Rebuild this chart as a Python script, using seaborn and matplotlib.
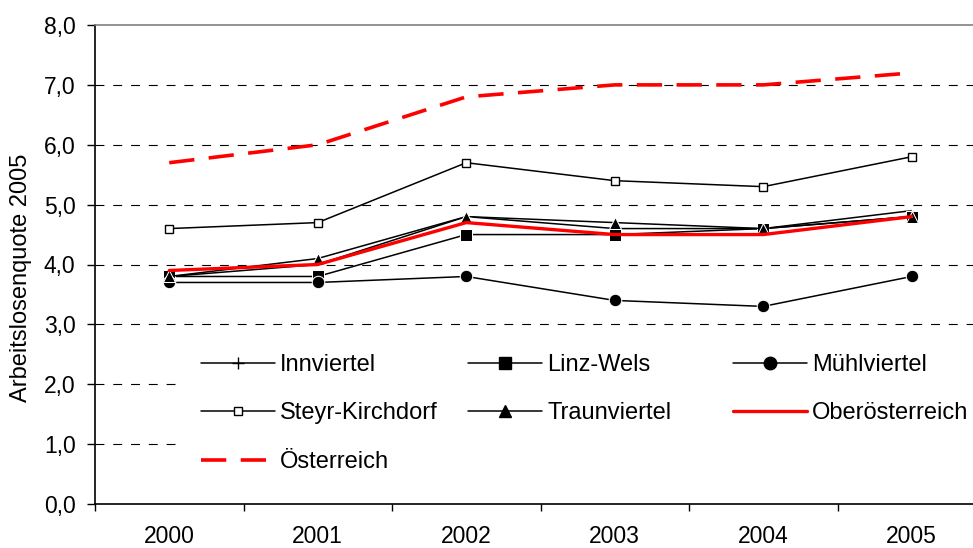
import matplotlib
matplotlib.use('Agg')
import matplotlib.pyplot as plt
import seaborn as sns
from matplotlib.lines import Line2D
from matplotlib.patches import Rectangle

# ================= Daten =================
years = ['2000', '2001', '2002', '2003', '2004', '2005']
innviertel = [3.8, 4.0, 4.8, 4.6, 4.6, 4.9]
linz_wels = [3.8, 3.8, 4.5, 4.5, 4.6, 4.8]
muehlviertel = [3.7, 3.7, 3.8, 3.4, 3.3, 3.8]
steyr_kirchdorf = [4.6, 4.7, 5.7, 5.4, 5.3, 5.8]
traunviertel = [3.8, 4.1, 4.8, 4.7, 4.6, 4.8]
oberoesterreich = [3.9, 4.0, 4.7, 4.5, 4.5, 4.8]
oesterreich = [5.7, 6.0, 6.8, 7.0, 7.0, 7.2]
y_ticks = [0, 1, 2, 3, 4, 5, 6, 7, 8]

# ================= Stil =================
sns.set_theme(style='white')
plt.rcParams['font.family'] = ['Liberation Sans', 'DejaVu Sans']
plt.rcParams['text.color'] = 'black'
plt.rcParams['axes.labelcolor'] = 'black'
FS = 16.5

fig = plt.figure(figsize=(9.73, 5.48), dpi=100)
ax = fig.add_axes([95 / 973, 44 / 548, 891 / 973, 479 / 548])

x = list(range(len(years)))

series = [
    ('Innviertel', innviertel, dict(color='black', lw=1.1, marker='+', ms=8, mew=1.0)),
    ('Linz-Wels', linz_wels, dict(color='black', lw=1.1, marker='s', ms=9)),
    ('Mühlviertel', muehlviertel, dict(color='black', lw=1.1, marker='o', ms=9)),
    ('Steyr-Kirchdorf', steyr_kirchdorf, dict(color='black', lw=1.1, marker='s', ms=6,
                                              mfc='white', mec='black', mew=1.0)),
    ('Traunviertel', traunviertel, dict(color='black', lw=1.1, marker='^', ms=8)),
    ('Oberösterreich', oberoesterreich, dict(color='red', lw=2.4)),
    ('Österreich', oesterreich, dict(color='red', lw=2.6, dashes=(7, 4))),
]

handles = {}
for name, vals, kw in series:
    sns.lineplot(x=x, y=vals, ax=ax, legend=False, zorder=3, **kw)
    handles[name] = Line2D([], [], **kw)

# Achsen
ax.set_ylim(0, 8)
ax.set_xlim(-0.5, 5.5)
ax.set_yticks(y_ticks)
ax.set_yticklabels([f'{v:.1f}'.replace('.', ',') for v in y_ticks])
ax.set_xticks(x)
ax.set_xticklabels(years)
ax.set_xticks([i - 0.5 for i in range(len(years) + 1)], minor=True)
ax.tick_params(axis='x', which='major', length=0, pad=15, labelsize=FS, colors='black')
ax.tick_params(axis='x', which='minor', length=5, width=1, direction='out', color='black',
               bottom=True)
ax.tick_params(axis='y', length=6, width=1, direction='out', left=True, pad=8,
               labelsize=FS, colors='black')
ax.set_ylabel('Arbeitslosenquote 2005', fontsize=17)
ax.yaxis.set_label_coords(-0.071, 0.472)
ax.set_xlabel('')

for v in y_ticks[1:-1]:
    ax.axhline(v, color='black', lw=0.8, linestyle=(0, (8, 8)), zorder=1)

for s in ['left', 'bottom']:
    ax.spines[s].set_color('black')
    ax.spines[s].set_linewidth(1.2)
ax.spines['top'].set_color('#808080')
ax.spines['top'].set_linewidth(1.2)
ax.spines['right'].set_visible(False)

# Legendenhintergrund (weiss, ohne Rahmen)
ax.add_patch(Rectangle((181 / 973, 1 - 335 / 548), 800 / 973, -160 / 548,
                       transform=fig.transFigure, facecolor='white',
                       edgecolor='none', zorder=2))

columns = [
    (['Innviertel', 'Steyr-Kirchdorf', 'Österreich'], 201),
    (['Linz-Wels', 'Traunviertel'], 468),
    (['Mühlviertel', 'Oberösterreich'], 733),
]
legends = []
for names, xpix in columns:
    leg = ax.legend([handles[n] for n in names], names,
                    loc='upper left', bbox_to_anchor=(xpix / 973, 1 - 354 / 548),
                    bbox_transform=fig.transFigure, frameon=False,
                    fontsize=17, handlelength=3.15, handletextpad=0.2,
                    labelspacing=1.12, borderpad=0, borderaxespad=0, numpoints=1)
    leg.set_zorder(4)
    legends.append(leg)
for leg in legends[:-1]:
    ax.add_artist(leg)

fig.savefig('out.png', dpi=100)
